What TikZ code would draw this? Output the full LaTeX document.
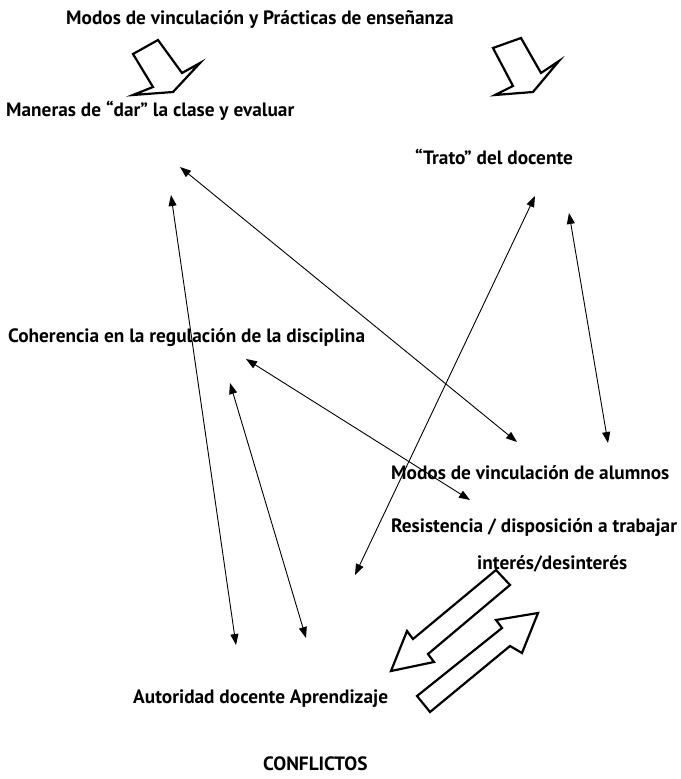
\documentclass[tikz,border=0pt]{standalone}
\usepackage{fontspec}
\setmainfont{PT Sans}
\usetikzlibrary{arrows.meta}
\begin{document}
\begin{tikzpicture}[x=1pt,y=-1pt,
  lbl/.style={font=\bfseries\fontsize{19.3}{22}\selectfont, inner sep=0pt, anchor=west},
  dbl/.style={line width=0.9pt, {Triangle[length=11pt,width=8pt]}-{Triangle[length=11pt,width=8pt]}},
  hollow/.style={line width=2.2pt, line join=miter, fill=white}]
\useasboundingbox (0,0) rectangle (680,779);
% texts
\node[lbl] (t1) at (66,20) {Modos de vinculación y Prácticas de enseñanza};
\node[lbl] (t2) at (6,111) {Maneras de “dar” la clase y evaluar};
\node[lbl] (t3) at (415,157) {“Trato” del docente};
\node[lbl] (t4) at (8,338) {Coherencia en la regulación de la disciplina};
\node[lbl] (t5) at (391,473) {Modos de vinculación de alumnos};
\node[lbl] (t6) at (391,528) {Resistencia / disposición a trabajar};
\node[lbl] (t7) at (477,564) {interés/desinterés};
\node[lbl] (t8) at (133,699) {Autoridad docente Aprendizaje};
\node[lbl] (t9) at (263,764) {CONFLICTOS};
% connector end points
\coordinate (a1) at (180,167); \coordinate (b1) at (517,442);
\coordinate (a2) at (171,195); \coordinate (b2) at (236,645);
\coordinate (a3) at (535,196); \coordinate (b3) at (355,575);
\coordinate (a4) at (569,213); \coordinate (b4) at (608,443);
\coordinate (a5) at (246,359); \coordinate (b5) at (470,500);
\coordinate (a6) at (230,383); \coordinate (b6) at (306,638);
\draw[dbl] (a1) -- (b1);
\draw[dbl] (a2) -- (b2);
\draw[dbl] (a3) -- (b3);
\draw[dbl] (a4) -- (b4);
\draw[dbl] (a5) -- (b5);
\draw[dbl] (a6) -- (b6);
% hollow block arrows
\draw[hollow] (133,54) -- (158,40) -- (182,73) -- (200,63) -- (173,92) -- (133,95) -- (153,87) -- cycle;
\draw[hollow] (493,48) -- (521,38) -- (541,73) -- (559,61) -- (533,92) -- (495,95) -- (513,86) -- cycle;
\draw[hollow] (496,570) -- (510,585) -- (428,654) -- (434,662) -- (391,671) -- (407,631) -- (413,639) -- cycle;
\draw[hollow] (417,696) -- (430,712) -- (510,646) -- (522,653) -- (538,613) -- (496,620) -- (502,628) -- cycle;
\end{tikzpicture}
\end{document}
